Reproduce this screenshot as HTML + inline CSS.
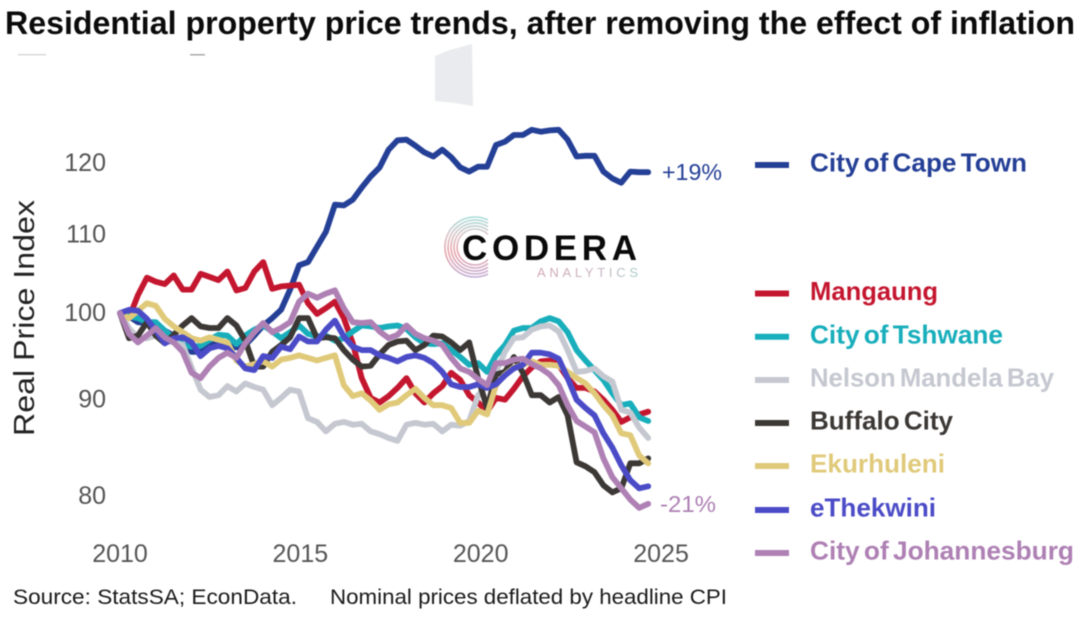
<!DOCTYPE html>
<html lang="en">
<head>
<meta charset="utf-8">
<title>Residential property price trends</title>
<style>
html,body{margin:0;padding:0;background:#fff;}
body{width:1080px;height:618px;overflow:hidden;}
svg{display:block;font-family:"Liberation Sans",sans-serif;filter:blur(0.4px);}
</style>
</head>
<body>
<svg id="chart" width="1080" height="618" viewBox="0 0 1080 618" xmlns="http://www.w3.org/2000/svg">
  <defs>
    <linearGradient id="logo-stripes" gradientUnits="userSpaceOnUse" x1="0" y1="217" x2="0" y2="277">
      <stop offset="0" stop-color="#a5dcd8"/>
      <stop offset="0.3" stop-color="#d9c4c8"/>
      <stop offset="0.6" stop-color="#e9a4a8"/>
      <stop offset="1" stop-color="#c3aed6"/>
    </linearGradient>
    <linearGradient id="logo-tag" gradientUnits="userSpaceOnUse" x1="537" y1="0" x2="638" y2="0">
      <stop offset="0" stop-color="#d2a9b4"/>
      <stop offset="0.6" stop-color="#c9b6c4"/>
      <stop offset="1" stop-color="#a9ccc9"/>
    </linearGradient>
  </defs>
  <rect width="1080" height="618" fill="#fff"/>
  <text x="5" y="34" font-size="32" font-weight="700" fill="#0b0b0b" textLength="1070" lengthAdjust="spacingAndGlyphs">Residential property price trends, after removing the effect of inflation</text>
  <polygon points="435,56 450,50 472,44 473,106 455,103 435,101" fill="#e9ebee"/>
  <rect x="18" y="54" width="28" height="1.5" fill="#d8d8d8"/>
  <rect x="190" y="54" width="15" height="1.5" fill="#aaa"/>
  <text transform="translate(34,436) rotate(-90)" font-size="29" fill="#222" textLength="236" lengthAdjust="spacingAndGlyphs">Real Price Index</text>
  <g id="y-ticks"></g>
  <g id="x-ticks"></g>
  <g>
    <g fill="none" stroke="url(#logo-stripes)" stroke-width="1.6">
      <path d="M488 220 A30 30 0 1 0 488 274"/>
      <path d="M488 223.3 A27 27 0 1 0 488 270.7"/>
      <path d="M488 226.8 A24 24 0 1 0 488 267.2"/>
      <path d="M488 230.5 A21 21 0 1 0 488 263.5"/>
      <path d="M488 234.5 A18 18 0 1 0 488 259.5"/>
    </g>
    <text x="462" y="260" font-size="35" font-weight="700" fill="#0a0a0a" textLength="175" lengthAdjust="spacing">CODERA</text>
    <text x="537" y="277" font-size="13" fill="url(#logo-tag)" textLength="101" lengthAdjust="spacing">ANALYTICS</text>
  </g>
  <g id="lines"></g>
  <text x="662" y="180" font-size="23" fill="#243f96" textLength="60" lengthAdjust="spacingAndGlyphs">+19%</text>
  <text x="660" y="512" font-size="23" fill="#ae80b4" textLength="56" lengthAdjust="spacingAndGlyphs">-21%</text>
  <g id="legend"></g>
  <text x="13" y="604" font-size="21" fill="#1a1a1a" textLength="284" lengthAdjust="spacingAndGlyphs">Source: StatsSA; EconData.</text>
  <text x="330" y="604" font-size="21" fill="#1a1a1a" textLength="397" lengthAdjust="spacingAndGlyphs">Nominal prices deflated by headline CPI</text>
</svg>
<script>
const xTickYears = [2010, 2015, 2020, 2025];
const yTickValues = [80, 90, 100, 110, 120];
const startYear = 2010;
const yearsPerStep = 0.2482;

const capeTown = [99.9,99.5,98.8,98.7,98.4,97.8,97.2,96.1,95.3,95.3,96,96.6,96.1,95.8,96.1,97.2,98.4,99.3,100.3,102.8,105.9,106.3,108.3,110.3,114,113.9,114.7,116.4,118,119.3,121.9,123.3,123.4,122.5,121.5,120.9,121.9,120.8,119.3,118.7,119.4,119.4,122.6,123.1,124.1,124.1,124.9,124.6,124.8,124.9,123.4,120.9,121,121,118.7,117.7,117.1,118.7,118.6,118.6];
const mangaung = [99.9,99.3,102.1,104.3,103.8,103.5,104.6,102.8,102.8,104.8,104.4,104,105.1,102.7,103,105.1,106.3,102.9,103.2,103.3,103.4,101.1,99.8,100.5,101.3,99.3,96.3,92.3,90.1,89.6,90.3,91.2,92.3,90.6,89.6,90.6,91.4,92.9,92.1,90.4,89.6,88.6,90.1,89.9,91.1,92.5,93.5,94.2,94.3,93.8,92.3,91.2,91.2,90.8,89.9,88.8,87.5,88,88.3,88.6];
const tshwane = [99.9,99.5,99.3,98.8,98.8,97.8,96.9,96.1,95.9,96,96.7,97.3,97.2,96.2,97.2,97.9,98.4,97.7,96.9,97.6,98.4,97.4,97.1,97.2,96.6,96.9,97.7,98.4,98.3,98.1,98.3,98.4,98,97,96.3,96.2,96.3,95.5,94.7,93.8,94,93,94.9,96.1,97.8,98.1,98.1,98.9,99.3,98.9,97.6,95.5,94.3,93.2,92.1,90.6,89.3,89.5,88,87.6];
const nelsonMandelaBay = [99.9,98.1,96.9,96.9,97.2,96.6,96.4,96.1,93.5,91,90.2,90.4,91.4,90.8,91.7,91.3,91,89.3,90.1,91,90.8,87.9,87.5,86.5,87.3,87.5,87.2,87.3,86.5,86.2,85.8,85.5,87.2,87.4,87.2,87.3,86.5,87.2,87.1,87.6,90.4,91.5,93,95.3,96.9,97,97.9,98.3,98.4,97.7,95.5,93,93.1,93.4,92.5,91.9,88.8,88.5,86.9,85.8];
const buffaloCity = [99.9,96.9,97.2,98.8,97.2,96.3,97.3,98.4,99.3,98.3,98.1,98.1,99.3,98.4,96.6,93.6,93.6,95.3,96.1,97,99.3,99.3,96.9,97,96.9,95.5,94.4,93.6,93.7,95,96.1,96.5,96.6,95.5,96.1,97.2,97.1,96.4,95.5,96.4,92.3,89,92.7,93,94.7,92.9,90.4,90.4,89.6,90.2,88.2,83.3,82.9,82.3,81,80.3,80.7,83.2,83.2,83.7];
const ekurhuleni = [99.9,99.3,100.2,101.1,100.8,99.2,98.3,97.6,96.9,96.6,97,96.7,96.4,94.3,93.6,93.9,94.2,93.6,94.4,94.6,94.9,94.6,94.3,94.6,94.9,91.5,90.3,90.6,89.8,88.8,89.4,89.6,90.4,91.1,90.1,89.3,89.3,89,87.4,87.4,88.7,88.3,91.5,92.7,93.5,93.8,94.2,93.8,93.8,93.7,93,92.3,91.7,90.6,89.3,88.2,86.3,86.1,84,83.2];
const eThekwini = [99.9,100.3,100.2,99.2,97.8,96.3,96.9,97,96.4,94.8,95.7,96,95.7,94.6,93.4,93.2,94.8,94.6,95.9,95.6,97.1,96.5,96.5,97.9,99,97.1,95.9,95.5,95.5,94.9,94.6,94.2,94.7,94.9,94.6,94,93,91.6,91.3,91.3,91.6,91.2,91.6,92.6,93.4,93.8,95.2,95.2,95,94.5,92.3,89.9,89,88.2,86.3,84.8,83,81.5,80.7,80.9];
const johannesburg = [99.9,97.4,96.4,97.2,98.1,97,96.4,95.3,92.9,92.3,93.6,94.6,95.2,94.6,96.3,97.6,98.7,97.6,98.1,98.8,101.3,102.3,101.8,102.3,102.7,100.5,98.8,98.7,98.8,97.7,96.9,97.3,98.4,97.4,96.9,96.6,96.1,94.6,93.4,93,92.2,91.5,94,94,94.4,94.5,93.9,93.4,92.7,91.5,89.3,87.6,87,86.4,83.7,81.8,80.7,79.6,78.8,79.2];

const seriesNames = ["City of Cape Town","Mangaung","City of Tshwane","Nelson Mandela Bay","Buffalo City","Ekurhuleni","eThekwini","City of Johannesburg"];
const seriesValues = [capeTown,mangaung,tshwane,nelsonMandelaBay,buffaloCity,ekurhuleni,eThekwini,johannesburg];
const seriesColors = ["#243f96","#c4162f","#18aebb","#c5c8d0","#3c3835","#e0ca7a","#4b4bc8","#ae80b4"];
const legendRows = [165,293.5,336.7,380,423,466,510,553];
const legendWidths = [217,128,193,244,143,135,126,264];

const NS = "http://www.w3.org/2000/svg";
function xScale(year){ return 120 + (year - 2010) * 36.07; }
function yScale(value){ return 495.5 - 821 * Math.log(value / 80); }
function slug(s){ return s.toLowerCase().replace(/\s+/g, '-'); }
function make(tag, attrs, parent, text){
  const el = document.createElementNS(NS, tag);
  for (const k in attrs) el.setAttribute(k, attrs[k]);
  if (text !== undefined) el.textContent = text;
  parent.appendChild(el);
  return el;
}

const yG = document.getElementById('y-ticks');
yTickValues.forEach(function(v){
  const t = make('text', {x: 106, y: yScale(v) + 8.5, 'font-size': 25, fill: '#555', 'text-anchor': 'end'}, yG, String(v));
  
  
});

const xG = document.getElementById('x-ticks');
xTickYears.forEach(function(y){
  const t = make('text', {x: xScale(y), y: 562, 'font-size': 25, fill: '#555', 'text-anchor': 'middle'}, xG, String(y));
  
  
});

const linesG = document.getElementById('lines');
seriesValues.forEach(function(vals, s){
  const d = vals.map(function(v, i){
    const px = xScale(startYear + i * yearsPerStep);
    return (i ? 'L' : 'M') + px.toFixed(1) + ' ' + yScale(v).toFixed(1);
  }).join(' ');
  const p = make('path', {d: d, fill: 'none', stroke: seriesColors[s], 'stroke-width': 5.8, 'stroke-linejoin': 'round', 'stroke-linecap': 'round'}, linesG);
  
  
});

const legendG = document.getElementById('legend');
seriesNames.forEach(function(name, s){
  const sw = make('line', {x1: 755, x2: 789, y1: legendRows[s], y2: legendRows[s], stroke: seriesColors[s], 'stroke-width': 6}, legendG);
  
  
  const t = make('text', {x: 810, y: legendRows[s] + 6.7, 'font-size': 26, 'font-weight': 700, 'word-spacing': '-3', fill: seriesColors[s], textLength: legendWidths[s], lengthAdjust: 'spacingAndGlyphs'}, legendG, name);
  
  
});
</script>
</body>
</html>
